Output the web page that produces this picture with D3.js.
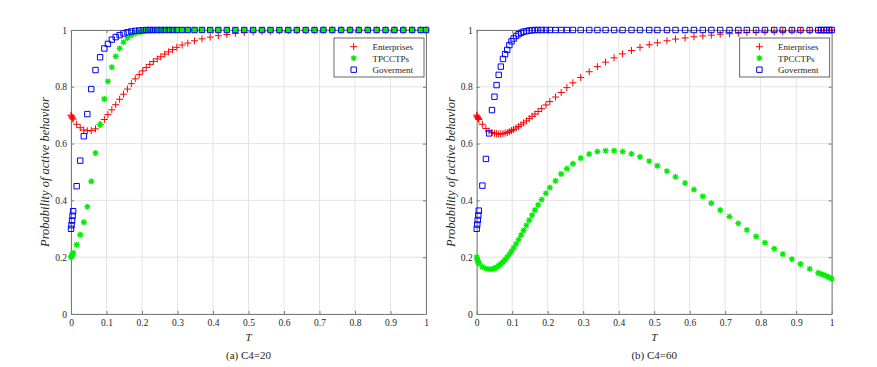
<!DOCTYPE html>
<html>
<head>
<meta charset="utf-8">
<script src="https://cdn.jsdelivr.net/npm/d3@7"></script>
<style>
body { margin: 0; background: #fff; }
svg text { font-family: "Liberation Serif", "Times New Roman", "DejaVu Serif", serif; }
</style>
</head>
<body>
<svg id="chart" width="877" height="367"></svg>
<script>
// solver time points, panel (a)
var tLeft = [0, 0.0015, 0.003, 0.0045, 0.006,
    0.016, 0.026, 0.036, 0.046, 0.057, 0.069, 0.082, 0.094,
    0.104, 0.115, 0.126, 0.137, 0.148, 0.159, 0.170, 0.181, 0.192, 0.202, 0.212, 0.222, 0.232, 0.243, 0.253, 0.264, 0.275, 0.286, 0.298,
    0.313, 0.329, 0.348, 0.369, 0.392,
    0.415, 0.439, 0.463, 0.488, 0.513, 0.538, 0.562, 0.587, 0.612, 0.636, 0.661, 0.686, 0.711, 0.736, 0.761, 0.786, 0.811, 0.836, 0.861, 0.886, 0.911, 0.936, 0.961,
    0.985, 1.0];
var entLeft = [0.700, 0.697, 0.693, 0.690, 0.686,
    0.668, 0.656, 0.648, 0.645, 0.646, 0.652, 0.667, 0.685,
    0.702, 0.719, 0.737, 0.756, 0.774, 0.792, 0.811, 0.828, 0.843, 0.856, 0.868, 0.879, 0.889, 0.898, 0.906, 0.915, 0.923, 0.931, 0.939,
    0.947, 0.954, 0.962, 0.969, 0.975,
    0.980, 0.984, 0.988, 0.991, 0.993, 0.995, 0.996, 0.997, 0.998, 0.999, 0.999, 0.999, 1, 1, 1, 1, 1, 1, 1, 1, 1, 1, 1,
    1, 1];
var tpcLeft = [0.200, 0.203, 0.207, 0.211, 0.216,
    0.244, 0.279, 0.323, 0.378, 0.467, 0.567, 0.667, 0.757,
    0.819, 0.869, 0.907, 0.935, 0.957, 0.972, 0.982, 0.988, 0.992, 0.995, 0.997, 0.998, 0.999, 1, 1, 1, 1, 1, 1,
    1, 1, 1, 1, 1,
    1, 1, 1, 1, 1, 1, 1, 1, 1, 1, 1, 1, 1, 1, 1, 1, 1, 1, 1, 1, 1, 1, 1,
    1, 1];
var govLeft = [0.300, 0.313, 0.329, 0.346, 0.362,
    0.450, 0.540, 0.626, 0.704, 0.792, 0.859, 0.904, 0.935,
    0.951, 0.966, 0.975, 0.982, 0.988, 0.992, 0.995, 0.997, 0.998, 0.999, 1, 1, 1, 1, 1, 1, 1, 1, 1,
    1, 1, 1, 1, 1,
    1, 1, 1, 1, 1, 1, 1, 1, 1, 1, 1, 1, 1, 1, 1, 1, 1, 1, 1, 1, 1, 1, 1,
    1, 1];

// solver time points, panel (b)
var tRight = [0, 0.0015, 0.003, 0.0045, 0.006,
    0.016, 0.026, 0.035, 0.043, 0.050, 0.056, 0.062, 0.068, 0.074, 0.080, 0.086, 0.092, 0.098, 0.104, 0.111, 0.118, 0.125, 0.132, 0.140, 0.148, 0.156, 0.164, 0.173,
    0.183, 0.195, 0.206, 0.222, 0.238, 0.254, 0.271, 0.293, 0.317, 0.340, 0.363, 0.387, 0.411, 0.436, 0.460, 0.486, 0.509, 0.536, 0.560, 0.587, 0.612, 0.637, 0.661, 0.686, 0.712, 0.737, 0.761, 0.787, 0.812, 0.838, 0.862, 0.888, 0.912, 0.938, 0.962,
    0.970, 0.978, 0.986, 0.993, 1.0];
var entRight = [0.700, 0.696, 0.692, 0.688, 0.685,
    0.668, 0.653, 0.644, 0.639, 0.636, 0.635, 0.634, 0.634, 0.635, 0.637, 0.639, 0.642, 0.646, 0.650, 0.655, 0.660, 0.666, 0.673, 0.680, 0.688, 0.696, 0.704, 0.713,
    0.723, 0.736, 0.748, 0.764, 0.780, 0.797, 0.814, 0.833, 0.853, 0.871, 0.887, 0.902, 0.916, 0.928, 0.939, 0.948, 0.955, 0.962, 0.968, 0.972, 0.976, 0.979, 0.982, 0.985, 0.987, 0.989, 0.991, 0.992, 0.993, 0.994, 0.995, 0.996, 0.997, 0.997, 0.998,
    0.998, 0.998, 0.999, 0.999, 0.999];
var tpcRight = [0.200, 0.193, 0.187, 0.182, 0.178,
    0.166, 0.160, 0.158, 0.158, 0.161, 0.165, 0.170, 0.176, 0.183, 0.191, 0.200, 0.210, 0.221, 0.233, 0.247, 0.262, 0.278, 0.294, 0.312, 0.330, 0.348, 0.366, 0.384,
    0.403, 0.425, 0.445, 0.469, 0.493, 0.512, 0.529, 0.549, 0.563, 0.572, 0.575, 0.575, 0.572, 0.564, 0.553, 0.538, 0.522, 0.503, 0.483, 0.461, 0.438, 0.414, 0.390, 0.366, 0.343, 0.319, 0.296, 0.273, 0.251, 0.230, 0.211, 0.193, 0.176, 0.159, 0.145,
    0.141, 0.137, 0.133, 0.129, 0.124];
var govRight = [0.300, 0.315, 0.331, 0.347, 0.364,
    0.452, 0.546, 0.636, 0.718, 0.765, 0.806, 0.842, 0.871, 0.898, 0.915, 0.930, 0.947, 0.960, 0.970, 0.979, 0.985, 0.990, 0.994, 0.996, 0.998, 0.999, 1, 1,
    1, 1, 1, 1, 1, 1, 1, 1, 1, 1, 1, 1, 1, 1, 1, 1, 1, 1, 1, 1, 1, 1, 1, 1, 1, 1, 1, 1, 1, 1, 1, 1, 1, 1, 1,
    1, 1, 1, 1, 1];

var seriesNames = ["Enterprises", "TPCCTPs", "Goverment"];
var captions = ["(a) C4=20", "(b) C4=60"];
var xTicks = [0, 0.1, 0.2, 0.3, 0.4, 0.5, 0.6, 0.7, 0.8, 0.9, 1];
var yTicks = [0, 0.2, 0.4, 0.6, 0.8, 1];

var panels = [
    {left: 71, t: tLeft, series: [entLeft, tpcLeft, govLeft], caption: captions[0]},
    {left: 476.7, t: tRight, series: [entRight, tpcRight, govRight], caption: captions[1]}
];

var plotWidth = 355, plotTop = 30, plotBottom = 314;
var axisColor = "#7a7a7a", textColor = "#262626";
var serif = '"Liberation Serif", "Times New Roman", "DejaVu Serif", serif';
var fmt = function (d) { return String(+d.toFixed(1)); };

// marker shapes, MATLAB style: '+', '*', 's'
var markers = [
    {color: "#ff0000", path: "M-3.5,0H3.5M0,-3.5V3.5", width: 1},
    {color: "#00ee00", path: "M-3,0H3M0,-3V3M-2.2,-2.2L2.2,2.2M-2.2,2.2L2.2,-2.2", width: 1.3},
    {color: "#0000ff", path: "M-2.7,-2.7H2.7V2.7H-2.7Z", width: 1}
];

var svg = d3.select("#chart");
svg.append("rect").attr("width", 877).attr("height", 367).attr("fill", "#fff");

panels.forEach(function (p) {
    var x = d3.scaleLinear().domain([0, 1]).range([p.left, p.left + plotWidth]);
    var y = d3.scaleLinear().domain([0, 1]).range([plotBottom, plotTop]);
    var g = svg.append("g");

    // grid
    g.selectAll(".vgrid").data(xTicks).enter().append("line")
        .attr("x1", function (d) { return x(d); }).attr("x2", function (d) { return x(d); })
        .attr("y1", plotTop).attr("y2", plotBottom)
        .attr("stroke", "#e3e3e3").attr("stroke-width", 1);
    g.selectAll(".hgrid").data(yTicks).enter().append("line")
        .attr("x1", x(0)).attr("x2", x(1))
        .attr("y1", function (d) { return y(d); }).attr("y2", function (d) { return y(d); })
        .attr("stroke", "#e3e3e3").attr("stroke-width", 1);

    // axes, ticks inward on all four sides
    var axes = [
        g.append("g").attr("transform", "translate(0," + plotBottom + ")")
            .call(d3.axisBottom(x).tickValues(xTicks).tickFormat(fmt).tickSizeInner(-3).tickSizeOuter(0).tickPadding(5)),
        g.append("g").attr("transform", "translate(" + x(0) + ",0)")
            .call(d3.axisLeft(y).tickValues(yTicks).tickFormat(fmt).tickSizeInner(-3).tickSizeOuter(0).tickPadding(4)),
        g.append("g").attr("transform", "translate(0," + plotTop + ")")
            .call(d3.axisTop(x).tickValues(xTicks).tickFormat("").tickSizeInner(-3).tickSizeOuter(0)),
        g.append("g").attr("transform", "translate(" + x(1) + ",0)")
            .call(d3.axisRight(y).tickValues(yTicks).tickFormat("").tickSizeInner(-3).tickSizeOuter(0))
    ];
    axes.forEach(function (a) {
        a.attr("font-family", serif).attr("font-size", 9.5);
        a.select(".domain").attr("stroke", axisColor);
        a.selectAll(".tick line").attr("stroke", axisColor);
        a.selectAll(".tick text").attr("fill", textColor)
            .style("font-family", serif).style("font-size", "9.5px");
    });

    // data markers
    p.series.forEach(function (vals, i) {
        var m = markers[i];
        g.append("g").selectAll("path")
            .data(d3.zip(p.t, vals)).enter().append("path")
            .attr("transform", function (d) { return "translate(" + x(d[0]) + "," + y(d[1]) + ")"; })
            .attr("d", m.path)
            .attr("fill", "none")
            .attr("stroke", m.color)
            .attr("stroke-width", m.width);
    });

    // legend
    var lx = x(1) - 92, ly = 38;
    var leg = g.append("g").attr("transform", "translate(" + lx + "," + ly + ")");
    leg.append("rect").attr("width", 90).attr("height", 39)
        .attr("fill", "#fff").attr("stroke", "#444").attr("stroke-width", 0.8);
    seriesNames.forEach(function (name, i) {
        var row = leg.append("g").attr("transform", "translate(0," + (8.7 + i * 11.5) + ")");
        row.append("path").attr("transform", "translate(19.7,0)")
            .attr("d", markers[i].path).attr("fill", "none")
            .attr("stroke", markers[i].color).attr("stroke-width", markers[i].width);
        row.append("text").attr("x", 38.4).attr("y", 3.3)
            .attr("fill", textColor)
            .style("font-family", serif).style("font-size", "9px").text(name);
    });

    // labels
    g.append("text").attr("x", x(0.5)).attr("y", 341)
        .attr("text-anchor", "middle").attr("fill", textColor)
        .style("font-family", serif).style("font-size", "11px").style("font-style", "italic").text("T");
    g.append("text")
        .attr("transform", "translate(" + (x(0) - 22) + "," + ((plotTop + plotBottom) / 2) + ") rotate(-90)")
        .attr("text-anchor", "middle").attr("fill", textColor)
        .style("font-family", serif).style("font-size", "12.5px").style("font-style", "italic")
        .text("Probability of active behavior");
    g.append("text").attr("x", x(0.5)).attr("y", 359)
        .attr("text-anchor", "middle").attr("fill", textColor)
        .style("font-family", serif).style("font-size", "11px").text(p.caption);
});
</script>
</body>
</html>
